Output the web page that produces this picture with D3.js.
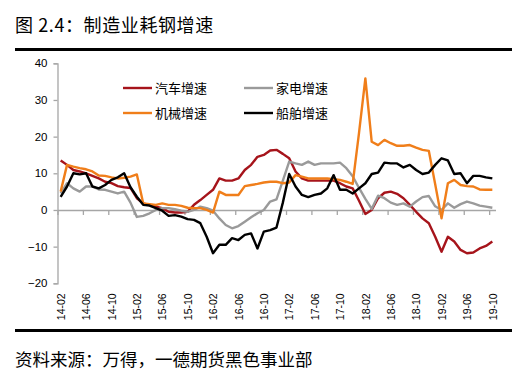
<!DOCTYPE html>
<html><head><meta charset="utf-8">
<script src="https://cdn.jsdelivr.net/npm/d3@7/dist/d3.min.js"></script>
<style>
html,body{margin:0;padding:0;background:#fff;}
svg{display:block;}
</style></head>
<body>
<svg id="chart" width="528" height="381"></svg>
<script>
const categories = ["14-02","14-03","14-04","14-05","14-06","14-07","14-08","14-09","14-10","14-11","14-12","15-01",
"15-02","15-03","15-04","15-05","15-06","15-07","15-08","15-09","15-10","15-11","15-12","16-01",
"16-02","16-03","16-04","16-05","16-06","16-07","16-08","16-09","16-10","16-11","16-12","17-01",
"17-02","17-03","17-04","17-05","17-06","17-07","17-08","17-09","17-10","17-11","17-12","18-01",
"18-02","18-03","18-04","18-05","18-06","18-07","18-08","18-09","18-10","18-11","18-12","19-01",
"19-02","19-03","19-04","19-05","19-06","19-07","19-08","19-09","19-10"];

const autoGrowth = [13.5,12.3,10.9,10.5,10,9.3,8.6,7.7,7.3,6.5,6.2,6.0,
3.2,1.8,1.3,0.9,0.5,-0.5,-0.7,-0.7,-0.5,1.4,2.7,4.1,
5.5,8.6,8,8,8.6,10.9,12.3,14.5,15,16.2,16.4,15.3,
14.1,10.5,8.6,8,8,8,8,8,7.3,6.4,5.9,2.5,
-1.1,0,3.2,4.7,5,4.4,3.2,1.4,-0.5,-2.3,-3.6,-7.3,
-11.4,-7.3,-8.6,-10.9,-11.8,-11.6,-10.5,-9.8,-8.6];

const applianceGrowth = [4.5,7.3,5.9,5,6.4,6.4,5.6,5.5,5,4.5,5,2,
-1.9,-1.6,-0.9,0,0.5,0.5,0.2,-0.2,-0.5,0,0.9,0.5,
-0.2,-2.3,-4.1,-5,-4.4,-3.2,-2,-0.9,0,2.3,2.9,8,
13.2,12.7,12.3,13.2,12.3,12.7,12.7,12.7,12.9,11.4,9.2,6,
3,0.3,3.9,3.2,2,1.4,1.8,0.9,2.3,3.5,3.8,1,
0,1.8,0.6,1.6,2.3,1.8,1.2,0.9,0.6];

const machineryGrowth = [5,12.3,11.8,11.4,11.1,10.5,9.4,9.3,8.9,8.6,8.8,9.1,
9.7,1.8,1.6,1.4,1.8,1.4,1.4,1.1,0.6,0.5,0.5,0,
-0.7,5,4.1,4.1,4.1,6.5,6.8,7.1,7.5,7.7,7.7,7.3,
7.5,9.5,9.1,8.6,8.6,8.6,8.6,8.4,8.2,7.7,7.1,21,
35.9,18.6,17.7,19.1,18.2,17.5,17.5,17.7,17,16.4,16.1,7,
-2.3,7.3,8.2,6.8,6.5,6.4,5.6,5.5,5.5];

const shipGrowth = [3.6,6.4,10,9.7,10,6.4,5.9,6.8,8.2,8.9,10,6.2,
3.6,1.4,1.2,0.5,-0.2,-1.6,-1.4,-1.8,-2.5,-2.7,-3.6,-7.3,
-11.8,-9.5,-9.5,-7.7,-8.2,-6.8,-6.4,-10.5,-5.9,-5.5,-4.8,2,
9.8,6.4,4.1,3.5,4.1,4.5,5.9,9.5,5.5,5.5,4.5,5.9,
7.3,9.8,10.2,12.9,12.7,12.7,11.6,12.3,10.9,9.8,10.2,12.3,
14.1,13.5,9.8,10,7.3,9.3,9.3,8.9,8.6];

const seriesNames = ["汽车增速","家电增速","机械增速","船舶增速"];
const yTicks = [-20,-10,0,10,20,30,40];
const titleText = "图 2.4：制造业耗钢增速";
const sourceText = "资料来源：万得，一德期货黑色事业部";

const seriesList = [
  {name: seriesNames[0], values: autoGrowth, color: "#A6141B"},
  {name: seriesNames[1], values: applianceGrowth, color: "#9A9A9A"},
  {name: seriesNames[2], values: machineryGrowth, color: "#F07E1A"},
  {name: seriesNames[3], values: shipGrowth, color: "#000000"}
];

const svg = d3.select("#chart");
const axisColor = "#A6A6A6";
const n = categories.length;
const xi = d3.scaleLinear().domain([0, n]).range([57.5, 495.5]);
const y = d3.scaleLinear().domain([-20, 40]).range([283.3, 63.3]);

// title
svg.append("text").attr("x", 15).attr("y", 32)
  .attr("font-family", "'Noto Sans CJK SC', sans-serif").attr("font-size", 18)
  .attr("letter-spacing", 0.6)
  .attr("fill", "#000").text(titleText);
svg.append("line").attr("x1", 15).attr("x2", 512).attr("y1", 49.5).attr("y2", 49.5)
  .attr("stroke", "#000").attr("stroke-width", 3);
svg.append("line").attr("x1", 15).attr("x2", 512).attr("y1", 330.5).attr("y2", 330.5)
  .attr("stroke", "#000").attr("stroke-width", 3);
svg.append("text").attr("x", 15).attr("y", 366)
  .attr("font-family", "'Noto Sans CJK SC', sans-serif").attr("font-size", 17.5)
  .attr("fill", "#000").text(sourceText);

// y axis
const yAxis = d3.axisLeft(y).tickValues(yTicks).tickSize(4).tickPadding(6);
const gy = svg.append("g").attr("transform", `translate(${xi(0)},0)`).call(yAxis);
gy.select(".domain").attr("stroke", axisColor).attr("stroke-width", 1.3);
gy.selectAll(".tick line").attr("stroke", axisColor).attr("stroke-width", 1.3);
gy.selectAll(".tick text").attr("font-family", "'Liberation Sans', Arial, sans-serif")
  .attr("font-size", 11.5).attr("fill", "#000");

// x axis at zero (tick marks at category boundaries every 4)
const boundaryTicks = d3.range(0, n + 1, 4);
const xAxisTicks = d3.axisBottom(xi).tickValues(boundaryTicks).tickSize(5).tickFormat("").tickSizeOuter(0);
const gx = svg.append("g").attr("transform", `translate(0,${y(0)})`).call(xAxisTicks);
gx.select(".domain").attr("stroke", axisColor).attr("stroke-width", 1.5);
gx.selectAll(".tick line").attr("stroke", axisColor).attr("stroke-width", 1.3);

// x labels at bottom
const labelIdx = d3.range(0, n, 4);
const xLab = d3.axisBottom(xi).tickValues(labelIdx.map(i => i + 0.5))
  .tickFormat(v => categories[Math.round(v - 0.5)]).tickSize(0);
const gl = svg.append("g").attr("transform", `translate(0,${y(-20) + 10})`).call(xLab);
gl.select(".domain").remove();
gl.selectAll(".tick text")
  .attr("font-family", "'Liberation Sans', Arial, sans-serif").attr("font-size", 10.5)
  .attr("fill", "#000")
  .attr("transform", "rotate(-90)")
  .attr("text-anchor", "end").attr("x", 0).attr("y", 0).attr("dy", "0.35em").attr("dx", 0);

// lines
const line = d3.line().x((d, i) => xi(i + 0.5)).y(d => y(d));
seriesList.forEach(s => {
  svg.append("path").datum(s.values).attr("d", line)
    .attr("fill", "none").attr("stroke", s.color).attr("stroke-width", 2.4)
    .attr("stroke-linejoin", "round");
});

// legend
const legendPos = [[123, 88], [244, 88], [123, 113], [244, 113]];
legendPos.forEach((p, j) => {
  const s = seriesList[j];
  const [lx, ly] = p;
  svg.append("line").attr("x1", lx).attr("x2", lx + 29).attr("y1", ly).attr("y2", ly)
    .attr("stroke", s.color).attr("stroke-width", 2.4);
  svg.append("text").attr("x", lx + 32).attr("y", ly).attr("dy", "0.36em")
    .attr("font-family", "'Noto Sans CJK SC', sans-serif").attr("font-size", 13)
    .attr("fill", "#000").text(s.name);
});
</script>
</body></html>
